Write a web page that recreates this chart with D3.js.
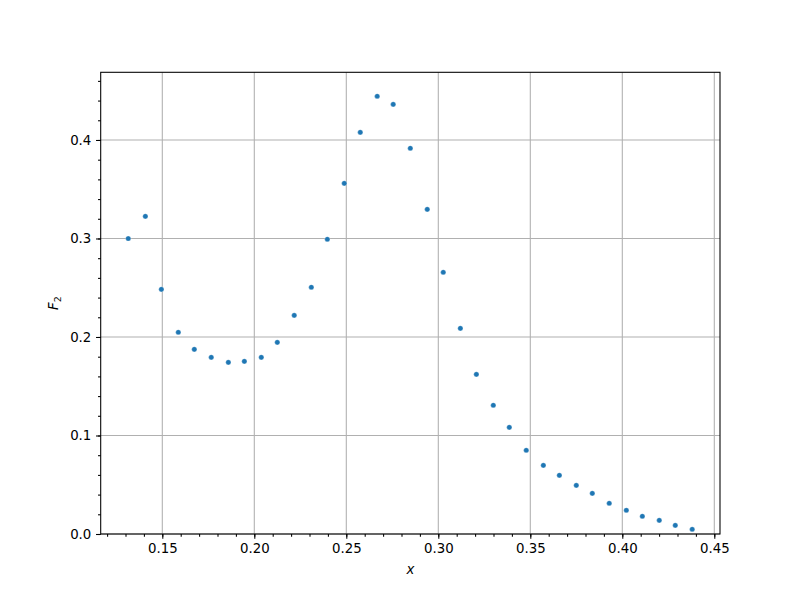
<!DOCTYPE html>
<html><head><meta charset="utf-8">
<script src="https://cdn.jsdelivr.net/npm/d3@7"></script>
<style>body{margin:0;background:#fff}svg{display:block}text{font-family:"DejaVu Sans",sans-serif}</style>
</head><body>
<svg id="c" width="800" height="600"></svg>
<script>
const xValues = [0.1315,0.1408,0.1495,0.1587,0.1674,0.1766,0.1859,0.1946,0.2038,0.2125,0.2217,0.2310,0.2397,0.2489,0.2576,0.2668,0.2755,0.2848,0.2940,0.3027,0.3120,0.3207,0.3299,0.3386,0.3478,0.3571,0.3658,0.3750,0.3837,0.3929,0.4022,0.4109,0.4201,0.4288,0.4380];
const f2Values = [0.3000,0.3225,0.2484,0.2048,0.1875,0.1794,0.1743,0.1753,0.1794,0.1946,0.2220,0.2505,0.2992,0.3560,0.4078,0.4444,0.4362,0.3916,0.3296,0.2657,0.2088,0.1621,0.1307,0.1083,0.0850,0.0697,0.0596,0.0494,0.0413,0.0312,0.0241,0.0180,0.0139,0.0088,0.0048];
const xTicks = [0.15,0.20,0.25,0.30,0.35,0.40,0.45];
const yTicks = [0.0,0.1,0.2,0.3,0.4];

const L=100.7,R=720,T=72.3,B=534;
const svg=d3.select("#c");
const x=d3.scaleLinear().domain([0.11652,0.4531]).range([L,R]);
const y=d3.scaleLinear().domain([0,0.4687]).range([B,T]);

const xMinor=d3.range(12,46).map(d=>d/100).filter(v=>v>=0.1166&&v<=0.453);
const yMinor=d3.range(0,24).map(d=>d*0.02).filter(v=>v<=0.4687);

// grid
const g=svg.append("g");
g.selectAll(".gx").data(xTicks).join("line").attr("x1",d=>x(d)).attr("x2",d=>x(d)).attr("y1",T).attr("y2",B).attr("stroke","#b0b0b0").attr("stroke-width",1.07);
g.selectAll(".gy").data(yTicks).join("line").attr("y1",d=>y(d)).attr("y2",d=>y(d)).attr("x1",L).attr("x2",R).attr("stroke","#b0b0b0").attr("stroke-width",1.07);

// points
svg.append("g").selectAll("circle").data(xValues.map((v,i)=>[v,f2Values[i]])).join("circle")
  .attr("cx",d=>x(d[0])).attr("cy",d=>y(d[1])).attr("r",2.6).attr("fill","#1f77b4").attr("stroke","#fff").attr("stroke-width",0.3);

// axes
const xa=svg.append("g").attr("transform",`translate(0,${B})`)
  .call(d3.axisBottom(x).tickValues(xTicks).tickFormat(d3.format(".2f")).tickSize(4.67).tickPadding(4.7));
const xm=svg.append("g").attr("transform",`translate(0,${B})`)
  .call(d3.axisBottom(x).tickValues(xMinor).tickFormat("").tickSize(2.67));
const ya=svg.append("g").attr("transform",`translate(${L},0)`)
  .call(d3.axisLeft(y).tickValues(yTicks).tickFormat(d3.format(".1f")).tickSize(4.67).tickPadding(4.7));
const ym=svg.append("g").attr("transform",`translate(${L},0)`)
  .call(d3.axisLeft(y).tickValues(yMinor).tickFormat("").tickSize(2.67));
[xa,xm,ya,ym].forEach(a=>{a.select(".domain").remove();a.selectAll("line").attr("stroke","#000").attr("stroke-width",1.07);a.selectAll("text").attr("font-size","13.33px").attr("fill","#000").attr("font-family","DejaVu Sans");});

svg.append("rect").attr("x",L).attr("y",T).attr("width",R-L).attr("height",B-T).attr("fill","none").attr("stroke","#000").attr("stroke-width",1.07);

svg.append("text").attr("x",(L+R)/2).attr("y",574).attr("text-anchor","middle").attr("font-size","13.33px").attr("font-style","italic").text("x");
const yl=svg.append("text").attr("transform",`translate(58,${(T+B)/2}) rotate(-90)`).attr("text-anchor","middle").attr("font-size","13.33px").attr("font-style","italic");
yl.append("tspan").text("F");
yl.append("tspan").attr("font-size","9.5px").attr("dy","3").attr("font-style","normal").text("2");
</script>
</body></html>
